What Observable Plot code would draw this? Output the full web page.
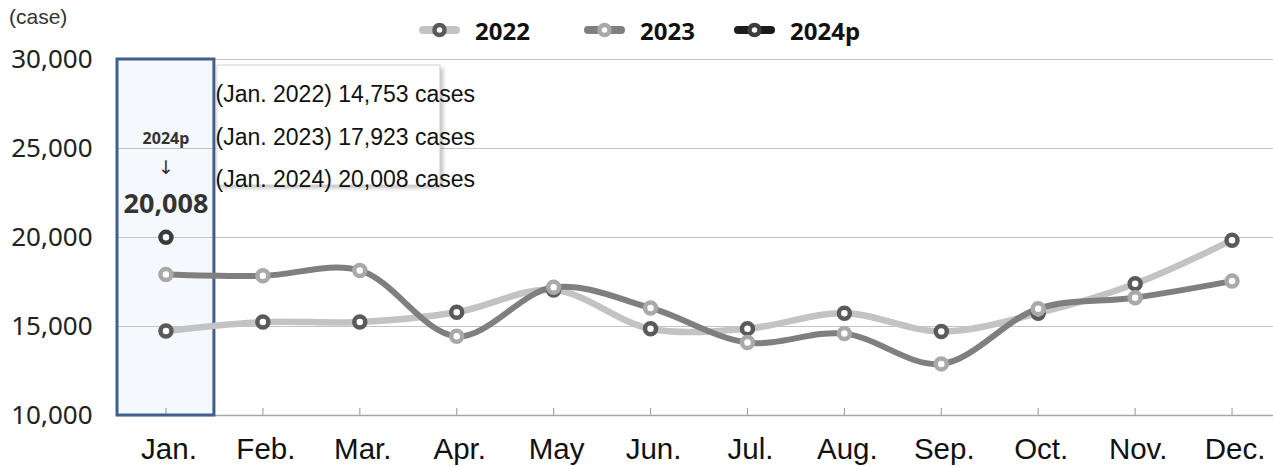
<!DOCTYPE html>
<html><head><meta charset="utf-8">
<script src="https://cdn.jsdelivr.net/npm/d3@7"></script>
<script src="https://cdn.jsdelivr.net/npm/@observablehq/plot@0.6"></script>
<style>
body{margin:0;background:#fff;}
#wrap{position:relative;width:1273px;height:467px;overflow:hidden;background:#fff}
#head{position:relative;height:45px}
#unit{position:absolute;left:9px;top:5px;font:21px "Liberation Sans",Arial,sans-serif;color:#333}
.leg{position:absolute;top:14px;height:32px;display:flex;align-items:center;font:bold 24px "Noto Sans",sans-serif;color:#111}
.leg svg{margin-right:14px}
#chart svg{display:block}
</style></head><body>
<div id="wrap"><div id="head"><div id="unit">(case)</div></div><div id="chart"></div></div>
<script>
// ---- data ----
const months = ["Jan.","Feb.","Mar.","Apr.","May","Jun.","Jul.","Aug.","Sep.","Oct.","Nov.","Dec."];
const years = ["2022","2023","2024p"];
const v2022 = [14753, 15250, 15250, 15800, 17050, 14870, 14880, 15750, 14720, 15750, 17400, 19850];
const v2023 = [17923, 17850, 18150, 14450, 17200, 16040, 14100, 14600, 12900, 16000, 16620, 17550];
const v2024p = [20008];
const yTicks = [10000, 15000, 20000, 25000, 30000];
const tipYears = ["2022", "2023", "2024"];
const tipValues = [14753, 17923, 20008];

// ---- styles ----
const lineColors = ["#c3c3c3", "#7f7f7f", "#1c1c1c"];
const markerColors = ["#5a5a5a", "#a9a9a9", "#3c3c3c"];
const fmt = d3.format(",");

// ---- legend ----
const legLeft = [418, 583, 733];
const head = document.getElementById("head");
years.forEach((y, s) => {
  const d = document.createElement("div");
  d.className = "leg";
  d.style.left = legLeft[s] + "px";
  d.innerHTML = `<svg width="43" height="18"><line x1="5" y1="9" x2="38" y2="9" stroke="${lineColors[s]}" stroke-width="8" stroke-linecap="round"/><circle cx="21.5" cy="9" r="5" fill="#fff" stroke="${markerColors[s]}" stroke-width="4.5"/></svg><span>${y}</span>`;
  head.appendChild(d);
});

// ---- chart ----
const series = [v2022, v2023, v2024p];
const data = series.flatMap((vals, s) => vals.map((v, i) => ({year: years[s], s, i, v})));
const idx = months.map((_, i) => i);
const tipText = tipYears.map((y, k) => `(Jan. ${y}) ${fmt(tipValues[k])} cases`).join("\n");

const tipBox = (index, scales) => {
  const g = d3.create("svg:g");
  const x0 = scales.x(0.5) + 3, w = 223;
  const y0 = scales.y(yTicks[yTicks.length - 1]) + 6, h = 120;
  g.append("rect").attr("x", x0 + 3).attr("y", y0 + 3).attr("width", w).attr("height", h)
    .attr("fill", "#8a8a8a").attr("opacity", 0.55).style("filter", "blur(2px)");
  g.append("rect").attr("x", x0).attr("y", y0).attr("width", w).attr("height", h)
    .attr("fill", "#fff").attr("stroke", "#d4d4d4").attr("stroke-width", 1);
  return g.node();
};

const plot = Plot.plot({
  width: 1273, height: 422,
  marginLeft: 117, marginRight: 0, marginTop: 14, marginBottom: 52,
  x: {domain: [-0.5, 11.5], range: [117, 1280]},
  y: {domain: [yTicks[0], yTicks[yTicks.length - 1]], range: [370, 14]},
  style: {background: "transparent", overflow: "visible"},
  marks: [
    Plot.rect([0], {x1: d => d - 0.5, x2: d => d + 0.5, y1: yTicks[0], y2: yTicks[yTicks.length - 1], fill: "#f5f8fc"}),
    Plot.ruleY(yTicks.slice(1), {stroke: "#c4c4c4", strokeWidth: 1}),
    Plot.ruleY([yTicks[0]], {stroke: "#a6a6a6", strokeWidth: 1.5}),
    Plot.ruleX(idx, {x: d => d, y1: yTicks[0], y2: yTicks[0] + 400, stroke: "#a6a6a6", strokeWidth: 1.2}),
    Plot.rect([0], {x1: d => d - 0.5, x2: d => d + 0.5, y1: yTicks[0], y2: yTicks[yTicks.length - 1], fill: "none", stroke: "#3f5f8c", strokeWidth: 3}),
    tipBox,
    Plot.text([tipText], {frameAnchor: "top-left", text: d => d, dx: 98, dy: 12.7, lineAnchor: "top", textAnchor: "start", lineHeight: 1.85, fontSize: 23, fontFamily: "Liberation Sans", fill: "#111"}),
    Plot.axisX({ticks: idx, tickFormat: i => months[i], tickSize: 0, tickPadding: 23, dx: 3, fontSize: 29.5, fontFamily: "Liberation Sans", fill: "#111", label: null}),
    Plot.axisY({ticks: yTicks, tickFormat: fmt, tickSize: 0, tickPadding: 25, fontSize: 26, fontFamily: "Noto Sans", fill: "#222", label: null}),
    Plot.line(data.filter(d => d.s === 0), {x: "i", y: "v", stroke: lineColors[0], strokeWidth: 6.5, curve: "catmull-rom"}),
    Plot.line(data.filter(d => d.s === 1), {x: "i", y: "v", stroke: lineColors[1], strokeWidth: 6, curve: "catmull-rom"}),
    Plot.dot(data.filter(d => d.s === 0), {x: "i", y: "v", r: 5.5, fill: "#fff", stroke: markerColors[0], strokeWidth: 4.5}),
    Plot.dot(data.filter(d => d.s === 1), {x: "i", y: "v", r: 5.5, fill: "#fff", stroke: markerColors[1], strokeWidth: 4.5}),
    Plot.dot(data.filter(d => d.s === 2), {x: "i", y: "v", r: 5.5, fill: "#fff", stroke: markerColors[2], strokeWidth: 4.5}),
    Plot.text([v2024p[0]], {x: () => 0, y: d => d, text: () => years[2], dy: -98, fontSize: 16, fontWeight: "bold", fontFamily: "Noto Sans", fill: "#333"}),
    Plot.text([v2024p[0]], {x: () => 0, y: d => d, text: () => "↓", dy: -69, fontSize: 19, fontFamily: "DejaVu Sans", fill: "#333"}),
    Plot.text([v2024p[0]], {x: () => 0, y: d => d, text: d => fmt(d), dy: -33, fontSize: 27, fontWeight: "bold", fontFamily: "Noto Sans", fill: "#333"})
  ]
});
document.getElementById("chart").appendChild(plot);
</script>
</body></html>
